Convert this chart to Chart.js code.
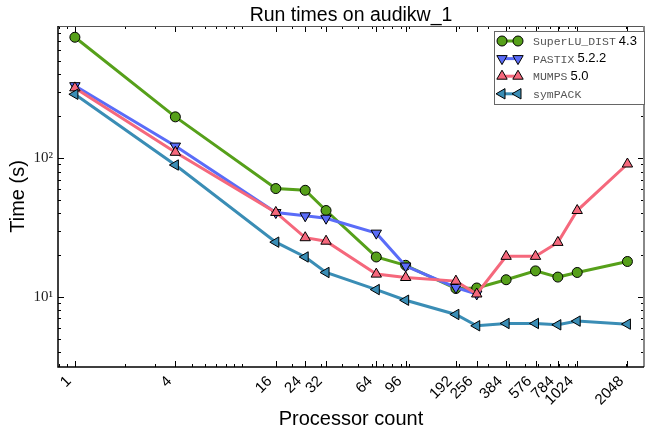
<!DOCTYPE html>
<html>
<head>
<meta charset="utf-8">
<script src="https://cdn.jsdelivr.net/npm/chart.js@4.4.0/dist/chart.umd.min.js"></script>
<style>
  html, body { margin: 0; padding: 0; background: #fff; }
  #wrap { width: 651px; height: 429px; }
</style>
</head>
<body>
<div id="wrap"><canvas id="runChart" width="651" height="429"></canvas></div>
<script>
// processor counts and run times (s)
var procs = [1, 4, 16, 24, 32, 64, 96, 192, 256, 384, 576, 784, 1024, 2048];
var superlu = [741, 198, 60.3, 58.6, 41.9, 19.4, 16.9, 11.5, 11.6, 13.3, 15.4, 13.9, 15.0, 18.0];
var pastix = [332, 122, 40.5, 38.4, 36.9, 28.8, 16.7, 11.7, 10.5, null, null, null, null, null];
var mumps = [320, 110, 40.6, 26.7, 25.2, 14.6, 13.8, 13.0, 10.5, 19.6, 19.6, 24.7, 41.9, 90.6];
var sympack = [288, 89.1, 24.8, 19.4, 15.0, 11.3, 9.47, 7.48, 6.2, 6.44, 6.44, 6.3, 6.7, 6.37];
var yTicks = [10, 100];
var yTickLabels = ['10\u00b9', '10\u00b2'];

var series = [
    { name: 'SuperLU_DIST', ver: '4.3', data: superlu, color: '#56a01a', style: 'circle', rot: 0, r: 5, order: 4 },
    { name: 'PASTIX', ver: '5.2.2', data: pastix, color: '#5a6cf8', style: 'triangle', rot: 180, r: 6, order: 3 },
    { name: 'MUMPS', ver: '5.0', data: mumps, color: '#f5687c', style: 'triangle', rot: 0, r: 6, order: 2 },
    { name: 'symPACK', ver: '', data: sympack, color: '#3a8db5', style: 'triangle', rot: -90, r: 6, order: 1 }
];

var datasets = series.map(function (s) {
    var pts = [];
    procs.forEach(function (p, i) {
        if (s.data[i] != null) pts.push({ x: p, y: s.data[i] });
    });
    return {
        label: s.name,
        data: pts,
        borderColor: s.color,
        backgroundColor: s.color,
        borderWidth: 3,
        pointStyle: s.style,
        rotation: s.rot,
        pointRadius: s.r,
        pointBorderColor: '#000',
        pointBackgroundColor: s.color,
        pointBorderWidth: 1,
        order: s.order
    };
});

function minorList(lo, hi) {
    var out = [];
    for (var d = 0.1; d <= 1000; d *= 10) {
        for (var k = 1; k <= 9; k++) {
            var v = Math.round(k * d * 1000) / 1000;
            if (v >= lo && v <= hi) out.push(v);
        }
    }
    return out;
}

var framePlugin = {
    id: 'frame',
    afterDatasetsDraw: function (chart) {
        var ctx = chart.ctx, a = chart.chartArea;
        var xs = chart.scales.x, ys = chart.scales.y;
        ctx.save();
        ctx.strokeStyle = '#000';
        ctx.lineWidth = 1;
        ctx.beginPath();
        // x ticks, bottom and top, pointing inward
        minorList(xs.min, xs.max).forEach(function (v) {
            var px = Math.round(xs.getPixelForValue(v)) + 0.5;
            ctx.moveTo(px, a.bottom); ctx.lineTo(px, a.bottom - 3);
            ctx.moveTo(px, a.top); ctx.lineTo(px, a.top + 3);
        });
        procs.forEach(function (v) {
            var px = Math.round(xs.getPixelForValue(v)) + 0.5;
            ctx.moveTo(px, a.bottom); ctx.lineTo(px, a.bottom - 6);
            ctx.moveTo(px, a.top); ctx.lineTo(px, a.top + 6);
        });
        minorList(ys.min, ys.max).forEach(function (v) {
            var py = Math.round(ys.getPixelForValue(v)) + 0.5;
            var len = yTicks.indexOf(v) >= 0 ? 6 : 3;
            ctx.moveTo(a.left, py); ctx.lineTo(a.left + len, py);
            ctx.moveTo(a.right, py); ctx.lineTo(a.right - len, py);
        });
        ctx.stroke();
        // frame
        ctx.lineWidth = 1;
        ctx.strokeStyle = '#555';
        ctx.beginPath();
        ctx.moveTo(a.left, a.top + 0.5); ctx.lineTo(a.right, a.top + 0.5);
        ctx.stroke();
        ctx.lineWidth = 2;
        ctx.strokeStyle = '#888';
        ctx.beginPath();
        ctx.moveTo(a.right, a.top); ctx.lineTo(a.right, a.bottom);
        ctx.stroke();
        ctx.lineWidth = 1.5;
        ctx.strokeStyle = '#000';
        ctx.beginPath();
        ctx.moveTo(a.left, a.top); ctx.lineTo(a.left, a.bottom); ctx.lineTo(a.right, a.bottom);
        ctx.stroke();

        // rotated x tick labels
        ctx.fillStyle = '#000';
        ctx.font = '15px "Liberation Sans", Arial, sans-serif';
        ctx.textAlign = 'right';
        ctx.textBaseline = 'middle';
        procs.forEach(function (v) {
            var px = xs.getPixelForValue(v);
            ctx.save();
            ctx.translate(px - 6, a.bottom + 12);
            ctx.rotate(-Math.PI / 4);
            ctx.fillText(String(v), 0, 0);
            ctx.restore();
        });

        // title
        ctx.fillStyle = '#000';
        ctx.font = '19.5px "Liberation Sans", Arial, sans-serif';
        ctx.textAlign = 'center';
        ctx.textBaseline = 'alphabetic';
        ctx.fillText('Run times on audikw_1', (a.left + a.right) / 2, 21);

        // legend
        var lx = 494, ly = 31, lw = 150, lh = 73;
        ctx.fillStyle = '#fff';
        ctx.fillRect(lx, ly, lw, lh);
        ctx.lineWidth = 1;
        ctx.strokeStyle = '#666';
        ctx.strokeRect(lx + 0.5, ly + 0.5, lw, lh);
        series.forEach(function (s, i) {
            var cy = ly + 10 + i * 17.6;
            ctx.strokeStyle = s.color;
            ctx.lineWidth = 3;
            ctx.beginPath();
            ctx.moveTo(502, cy); ctx.lineTo(518, cy);
            ctx.stroke();
            [502, 518].forEach(function (mx) {
                ctx.fillStyle = s.color;
                ctx.strokeStyle = '#000';
                ctx.lineWidth = 1;
                Chart.helpers.drawPoint(ctx, { pointStyle: s.style, rotation: s.rot, radius: s.r, borderWidth: 1 }, mx, cy);
            });
            ctx.textAlign = 'left';
            ctx.textBaseline = 'middle';
            ctx.fillStyle = '#555';
            ctx.font = '11.5px "Liberation Mono", "DejaVu Sans Mono", monospace';
            ctx.fillText(s.name, 533, cy + 1);
            var w = ctx.measureText(s.name).width;
            if (s.ver) {
                ctx.fillStyle = '#000';
                ctx.font = '13px "Liberation Sans", Arial, sans-serif';
                ctx.fillText(s.ver, 533 + w + 3, cy);
            }
        });
        ctx.restore();
    }
};

new Chart('runChart', {
    type: 'line',
    data: { datasets: datasets },
    options: {
        responsive: false,
        animation: false,
        layout: { padding: { top: 26, right: 4, left: 0, bottom: 0 } },
        plugins: {
            legend: { display: false },
            tooltip: { enabled: false },
            title: { display: false }
        },
        scales: {
            x: {
                type: 'logarithmic',
                min: 0.792,
                max: 2574,
                grid: { display: false, drawTicks: false },
                border: { display: false },
                afterBuildTicks: function (scale) {
                    scale.ticks = procs.map(function (v) { return { value: v }; });
                },
                afterFit: function (scale) { scale.height = 62; },
                ticks: { display: false },
                title: {
                    display: true,
                    text: 'Processor count',
                    color: '#000',
                    padding: { top: 0, bottom: -2 },
                    font: { family: '"Liberation Sans", Arial, sans-serif', size: 20 }
                }
            },
            y: {
                type: 'logarithmic',
                min: 3.13,
                max: 893,
                grid: { display: false, drawTicks: false },
                border: { display: false },
                afterBuildTicks: function (scale) {
                    scale.ticks = yTicks.map(function (v) { return { value: v }; });
                },
                afterFit: function (scale) { scale.width = 58; },
                ticks: {
                    padding: 5,
                    color: '#222',
                    font: { family: '"Liberation Serif", "DejaVu Serif", serif', size: 15 },
                    callback: function (v) {
                        var i = yTicks.indexOf(v);
                        return i >= 0 ? yTickLabels[i] : '';
                    }
                },
                title: {
                    display: true,
                    text: 'Time (s)',
                    color: '#000',
                    padding: { top: 6, bottom: 4 },
                    font: { family: '"Liberation Sans", Arial, sans-serif', size: 20 }
                }
            }
        }
    },
    plugins: [framePlugin]
});
</script>
</body>
</html>
